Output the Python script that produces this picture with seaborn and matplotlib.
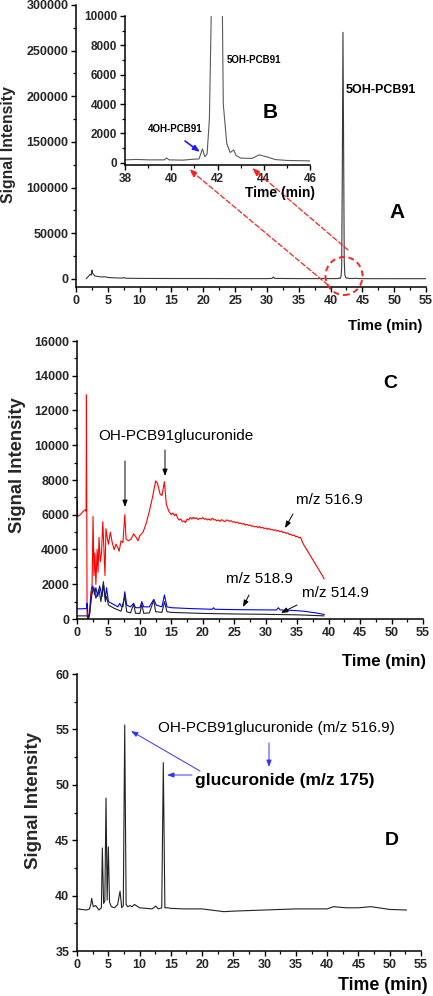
import numpy as np
import pandas as pd
import matplotlib
matplotlib.use("Agg")
import matplotlib.pyplot as plt
import seaborn as sns
from matplotlib.ticker import MultipleLocator, StrMethodFormatter
from matplotlib.patches import Ellipse

# ---------------- data ----------------
# Panel A: full chromatogram (also used for inset B, 38-46 min)
a_time = [1.6, 2.0, 2.2, 2.4, 2.5, 2.6, 2.8, 3.0, 3.5, 4.0, 4.5, 5.0, 6.0, 7.3, 7.5, 7.7,
          8.0, 10.0, 15.0, 20.0, 25.0, 30.0, 30.8, 31.0, 31.2, 35.0, 38.0, 38.5, 39.0,
          39.7, 39.8, 39.9, 40.5, 41.0, 41.2, 41.35, 41.45, 41.55, 41.65, 41.75, 41.85,
          41.95, 42.05, 42.15, 42.25, 42.4, 42.55, 42.7, 42.8, 43.0, 43.5, 43.8, 44.1,
          44.5, 45.0, 46.0, 50.0, 55.0]
a_signal = [0, 3000, 5000, 4000, 9500, 6000, 4500, 3000, 2500, 2000, 2200, 1500, 1000, 800,
            1400, 700, 600, 400, 300, 300, 200, 200, 400, 2000, 400, 200, 200, 230, 200,
            200, 330, 200, 180, 250, 260, 950, 420, 600, 3000, 12000, 120000,
            270000, 150000, 20000, 4000, 1300, 700, 880, 500, 320, 300, 540, 420,
            220, 160, 130, 100, 100]

# Panel C: m/z 516.9 (red)
c516_time = [0.0, 0.05, 0.1, 0.5, 1.0, 1.4, 1.45, 1.5, 1.55, 1.6, 1.8, 2.0, 2.2, 2.4, 2.55,
             2.7, 2.85, 3.0, 3.2, 3.35, 3.5, 3.7, 3.9, 4.1, 4.3, 4.45, 4.6, 4.8, 5.0, 5.3,
             5.6, 5.9, 6.2, 6.5, 6.7, 7.0, 7.3, 7.6, 7.8, 8.2, 8.6, 9.0, 9.4, 9.7, 10.0,
             10.5, 11.0, 11.5, 12.0, 12.5, 12.8, 13.2, 13.5, 13.9, 14.2, 14.6,
             15.0, 15.25, 15.5, 15.75, 16.0, 16.25, 16.5, 16.75, 17.0, 17.25, 17.5, 17.75,
             18.0, 18.25, 18.5, 18.75, 19.0, 19.25, 19.5, 19.75, 20.0, 20.25, 20.5, 20.75,
             21.0, 21.25, 21.5, 21.75, 22.0, 22.25, 22.5, 22.75, 23.0, 23.25, 23.5, 23.75,
             24.0, 24.25, 24.5, 24.75, 25.0, 25.25, 25.5, 25.75, 26.0, 26.25, 26.5, 26.75,
             27.0, 27.25, 27.5, 27.75, 28.0, 28.25, 28.5, 28.75, 29.0, 29.25, 29.5, 29.75,
             30.0, 30.25, 30.5, 30.75, 31.0, 31.25, 31.5, 31.75, 32.0, 32.25, 32.5, 32.75,
             33.0, 33.25, 33.5, 33.75, 34.0, 34.25, 34.5, 34.75, 35.0, 35.25, 35.5,
             36.0, 36.5, 37.0, 37.5, 38.0, 38.5, 39.0, 39.3]
c516 = [5900, 6800, 5900, 6000, 6200, 6300, 6200, 12900, 6000, 200, 0, 300, 1500, 2000, 5900,
        2500, 3800, 2000, 4000, 2700, 4700, 3300, 3800, 5600, 3800, 2500, 5200, 4700, 4300, 5000,
        4400, 4000, 4300, 4100, 3900, 4500, 4400, 6000, 4600, 4500, 4600, 4900, 4700, 4500, 4800,
        5000, 5500, 6200, 7000, 7950, 7800, 7200, 7100, 7900, 6600, 6200,
        6000, 6100, 5950, 6050, 5800, 5700, 5750, 5600, 5650, 5550, 5750, 5700,
        5850, 5750, 5850, 5780, 5820, 5720, 5800, 5760, 5840, 5740, 5780, 5700,
        5760, 5680, 5800, 5700, 5720, 5650, 5700, 5620, 5720, 5660, 5600, 5700,
        5680, 5620, 5660, 5580, 5600, 5540, 5580, 5500, 5520, 5460, 5500, 5400,
        5450, 5380, 5420, 5340, 5360, 5300, 5340, 5260, 5320, 5240, 5280, 5200,
        5240, 5160, 5220, 5140, 5160, 5100, 5140, 5060, 5100, 5020, 5060, 4980,
        5000, 4920, 4960, 4860, 4880, 4800, 4840, 4740, 4760, 4680, 4700,
        4300, 4000, 3700, 3400, 3100, 2800, 2500, 2300]

# Panel C: m/z 518.9 (blue)
c518_time = [0.0, 1.55, 1.6, 1.8, 2.0, 2.2, 2.5, 2.8, 3.0, 3.3, 3.6, 4.0, 4.2, 4.5, 4.7, 5.0,
             5.5, 6.0, 6.5, 6.8, 7.0, 7.3, 7.6, 7.9, 8.5, 9.0, 9.3, 10.0, 10.3, 10.6, 11.5,
             12.2, 12.6, 13.5, 13.9, 14.3, 15.0, 18.0, 21.5, 21.7, 21.9, 25.0, 28.0, 31.7,
             32.0, 32.3, 34.0, 36.0, 38.0, 39.3]
c518 = [580, 600, 900, 0, 300, 1200, 1900, 1400, 1800, 1300, 1900, 1300, 2000, 1200, 1800,
        1000, 900, 800, 700, 900, 750, 700, 1570, 800, 700, 900, 650, 650, 1000, 700, 700,
        1130, 800, 700, 1380, 700, 650, 600, 560, 650, 560, 540, 530, 520, 650, 520, 500,
        450, 350, 260]

# Panel C: m/z 514.9 (black)
c514_time = [0.0, 1.6, 1.8, 2.0, 2.4, 2.7, 3.0, 3.5, 3.8, 4.2, 4.5, 4.7, 5.0, 6.0, 7.0, 7.6,
             7.9, 8.5, 9.0, 9.3, 10.0, 10.3, 10.6, 11.5, 12.2, 12.5, 13.5, 13.9, 14.3, 15.0,
             20.0, 25.0, 30.0, 35.0, 39.3]
c514 = [180, 180, 0, 300, 1500, 1800, 1200, 1700, 1000, 2150, 1000, 1300, 800, 600, 450, 1300,
        420, 350, 850, 330, 320, 850, 330, 350, 1090, 420, 380, 1000, 420, 380,
        320, 290, 270, 240, 180]

# Panel D: m/z 175 trace
d_time = [0.0, 1.5, 2.0, 2.2, 2.35, 2.6, 3.0, 3.5, 3.9, 4.05, 4.25, 4.45, 4.64, 4.82, 5.01,
          5.2, 5.5, 6.0, 6.5, 6.88, 7.15, 7.4, 7.63, 7.85, 8.1, 8.5, 8.8, 9.2, 10.0, 11.0,
          12.0, 12.6, 13.0, 13.55, 13.8, 14.05, 14.5, 15.0, 17.0, 20.0, 23.5, 25.0, 30.0,
          35.0, 40.0, 41.0, 43.0, 45.0, 47.0, 50.0, 52.7]
d_signal = [38.8, 38.7, 38.8, 39.2, 39.75, 39.0, 39.1, 38.7, 38.9, 44.3, 39.3, 39.5, 48.8,
            39.6, 44.4, 39.4, 39.0, 38.9, 39.2, 40.4, 38.9, 39.1, 55.4, 39.2, 39.0, 39.1,
            39.0, 39.2, 38.9, 38.85, 38.8, 39.05, 38.8, 38.9, 52.0, 38.9, 38.9, 38.85,
            38.8, 38.8, 38.55, 38.6, 38.7, 38.8, 38.8, 39.0, 38.9, 38.9, 39.0, 38.75, 38.7]

# ---------------- styling ----------------
sns.set_theme(style="ticks")
plt.rcParams["font.family"] = ["Liberation Sans", "DejaVu Sans"]
plt.rcParams["font.weight"] = "bold"
plt.rcParams["axes.labelweight"] = "bold"

W, H = 433, 996
fig = plt.figure(figsize=(W / 100, H / 100), dpi=100)


def fx(px):
    return px / W


def fy(py):
    return 1 - py / H


def make_axes(left, right, top, bottom):
    return fig.add_axes([fx(left), fy(bottom), fx(right) - fx(left), fy(top) - fy(bottom)])


def style_axes(ax, xmaj, xmin, ymaj, ymin, size):
    sns.despine(ax=ax)
    for s in ("left", "bottom"):
        ax.spines[s].set_linewidth(1.1)
        ax.spines[s].set_color("black")
    ax.xaxis.set_major_locator(MultipleLocator(xmaj))
    ax.xaxis.set_minor_locator(MultipleLocator(xmin))
    ax.yaxis.set_major_locator(MultipleLocator(ymaj))
    ax.yaxis.set_minor_locator(MultipleLocator(ymin))
    ax.yaxis.set_major_formatter(StrMethodFormatter("{x:.0f}"))
    ax.tick_params(which="major", direction="out", length=3.5, width=1.0,
                   labelsize=size, color="black", pad=2)
    ax.tick_params(which="minor", direction="out", length=2.0, width=0.9, color="black")
    for lbl in ax.get_xticklabels() + ax.get_yticklabels():
        lbl.set_fontweight("bold")
    ax.set_xlabel("")
    ax.set_ylabel("")


def ftext(px, py, s, size, weight="bold", color="black", **kw):
    fig.text(fx(px), fy(py), s, fontsize=size, fontweight=weight, color=color,
             ha="center", va="center", **kw)


def farrow(x0, y0, x1, y1, color="black", lw=0.7, ls="-", head=5):
    fig.add_artist(matplotlib.patches.FancyArrowPatch(
        (fx(x0), fy(y0)), (fx(x1), fy(y1)), transform=fig.transFigure,
        arrowstyle=f"-|>,head_length={head*0.08},head_width={head*0.03}",
        color=color, lw=lw, linestyle=ls, mutation_scale=10, shrinkA=0, shrinkB=0))


# ---------------- Panel A ----------------
dfa = pd.DataFrame({"Time (min)": a_time, "Signal Intensity": a_signal})
axA = make_axes(76, 426, 5, 287)
sns.lineplot(data=dfa, x="Time (min)", y="Signal Intensity", ax=axA, color="#3a3a3a",
             lw=0.8, estimator=None, sort=False)
axA.set_xlim(0, 55)
axA.set_ylim(-9000, 300000)
style_axes(axA, 5, 2.5, 50000, 25000, 9)
axA.set_facecolor("white")

# inset B
axB = make_axes(125, 310, 16, 165)
axB.set_facecolor("none")
sns.lineplot(data=dfa, x="Time (min)", y="Signal Intensity", ax=axB, color="#5a5a5a",
             lw=0.8, estimator=None, sort=False)
axB.set_xlim(38, 46)
axB.set_ylim(-150, 10000)
style_axes(axB, 2, 1, 2000, 1000, 8.5)

# ---------------- Panel C ----------------
dfc = pd.concat([
    pd.DataFrame({"t": c516_time, "v": c516, "ion": "m/z 516.9"}),
    pd.DataFrame({"t": c518_time, "v": c518, "ion": "m/z 518.9"}),
    pd.DataFrame({"t": c514_time, "v": c514, "ion": "m/z 514.9"}),
])
axC = make_axes(77, 423, 341, 619)
sns.lineplot(data=dfc, x="t", y="v", hue="ion", ax=axC, estimator=None, sort=False,
             palette={"m/z 516.9": "#ff0000", "m/z 518.9": "#0000ff", "m/z 514.9": "#222222"},
             lw=0.8, legend=False)
axC.set_xlim(0, 55)
axC.set_ylim(0, 16000)
style_axes(axC, 5, 2.5, 2000, 1000, 9)

# ---------------- Panel D ----------------
dfd = pd.DataFrame({"t": d_time, "v": d_signal})
axD = make_axes(77, 421, 674, 951)
sns.lineplot(data=dfd, x="t", y="v", ax=axD, color="#222222", lw=0.8,
             estimator=None, sort=False)
axD.set_xlim(0, 55)
axD.set_ylim(35, 60)
style_axes(axD, 5, 2.5, 5, 2.5, 9)

# ---------------- axis titles ----------------
fig.text(fx(9), fy(145), "Signal Intensity", rotation=90, fontsize=11.3,
         fontweight="bold", ha="center", va="center")
fig.text(fx(18), fy(465), "Signal Intensity", rotation=90, fontsize=13.2,
         fontweight="bold", ha="center", va="center")
fig.text(fx(34), fy(800), "Signal Intensity", rotation=90, fontsize=13.4,
         fontweight="bold", ha="center", va="center")
ftext(385, 326, "Time (min)", 10.7)
ftext(384, 661, "Time (min)", 12.1)
ftext(383, 985, "Time (min)", 12.8)
ftext(280, 193, "Time (min)", 10)

# ---------------- annotations: A / B ----------------
ftext(381, 90, "5OH-PCB91", 9)
ftext(397, 213, "A", 15)
ftext(270, 112, "B", 15)
ftext(175, 129, "4OH-PCB91", 7)
ftext(254, 60, "5OH-PCB91", 7)
farrow(185, 141, 200, 152, color="#1a1aff", lw=1.2, head=5)
farrow(328, 285, 189, 169, color="#ff2020", lw=0.9, ls=(0, (4, 2)), head=6)
farrow(348, 250, 252, 168, color="#ff2020", lw=0.9, ls=(0, (4, 2)), head=6)
fig.add_artist(Ellipse((fx(344), fy(276)), 37 / W, 38 / H, transform=fig.transFigure,
                       fill=False, edgecolor="#ff2020", lw=1.4, linestyle=(0, (3, 2))))

# ---------------- annotations: C ----------------
ftext(176, 436, "OH-PCB91glucuronide", 11, weight="normal")
ftext(329, 500, "m/z 516.9", 11, weight="normal")
ftext(259, 579, "m/z 518.9", 11, weight="normal")
ftext(335, 593, "m/z 514.9", 11, weight="normal")
ftext(390, 383, "C", 14)
farrow(125, 461, 125, 507, head=5)
farrow(165, 450, 165, 476, head=5)
farrow(293, 514, 285, 528, head=5)
farrow(249, 595, 243, 607, head=5)
farrow(297, 605, 281, 613, head=5)

# ---------------- annotations: D ----------------
ftext(276, 728, "OH-PCB91glucuronide (m/z 516.9)", 11, weight="normal")
ftext(285, 780, "glucuronide (m/z 175)", 12.5)
ftext(392, 840, "D", 14)
farrow(269, 743, 269, 767, color="#3333ff", lw=0.7, head=5)
farrow(200, 771, 131, 731, color="#3333ff", lw=0.7, head=5)
farrow(192, 775, 167, 775, color="#3333ff", lw=0.7, head=5)

fig.savefig("out.png", dpi=100)
